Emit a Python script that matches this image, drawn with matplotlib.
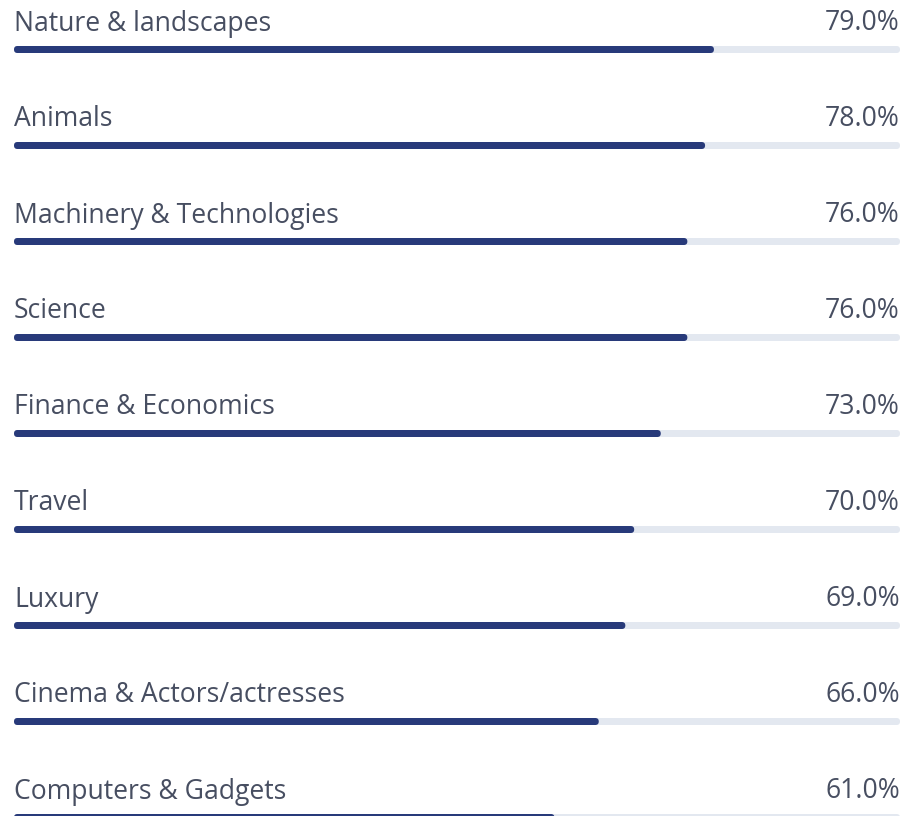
import matplotlib
matplotlib.use("Agg")
import matplotlib.pyplot as plt
from matplotlib.patches import FancyBboxPatch

categories = [
    "Nature & landscapes",
    "Animals",
    "Machinery & Technologies",
    "Science",
    "Finance & Economics",
    "Travel",
    "Luxury",
    "Cinema & Actors/actresses",
    "Computers & Gadgets",
]
values = [79.0, 78.0, 76.0, 76.0, 73.0, 70.0, 69.0, 66.0, 61.0]

W, H = 906, 816
left, right = 14, 900
row_h = 96
bar_px = 7
bar_color = "#283a7a"
track_color = "#e3e8f0"
text_color = "#474e61"

plt.rcParams["font.family"] = ["Open Sans", "DejaVu Sans"]

fig = plt.figure(figsize=(W / 100, H / 100), dpi=100)
ax = fig.add_axes([left / W, 0, (right - left) / W, 1])
ax.set_xlim(0, 100)
ax.set_ylim(H, 0)
ax.axis("off")

px_per_x = (right - left) / 100   # pixels per x unit (y units are pixels)
r = (bar_px / 2) / px_per_x       # pill radius in x units


def pill(x1, yc, color):
    p = FancyBboxPatch((0, yc - bar_px / 2), x1, bar_px,
                       boxstyle=f"round,pad=0,rounding_size={r}",
                       mutation_aspect=px_per_x, fc=color, ec="none",
                       clip_on=False)
    ax.add_patch(p)


for i, (cat, v) in enumerate(zip(categories, values)):
    yb = 49.5 + row_h * i
    yt = 30.5 + row_h * i
    pill(100, yb, track_color)
    pill(v, yb, bar_color)
    ax.text(0, yt, cat, ha="left", va="baseline", fontsize=19.1,
            color=text_color)
    ax.text(100, yt, f"{v:.1f}%", ha="right", va="baseline", fontsize=19.1,
            color=text_color)

fig.savefig("out.png", dpi=100)
